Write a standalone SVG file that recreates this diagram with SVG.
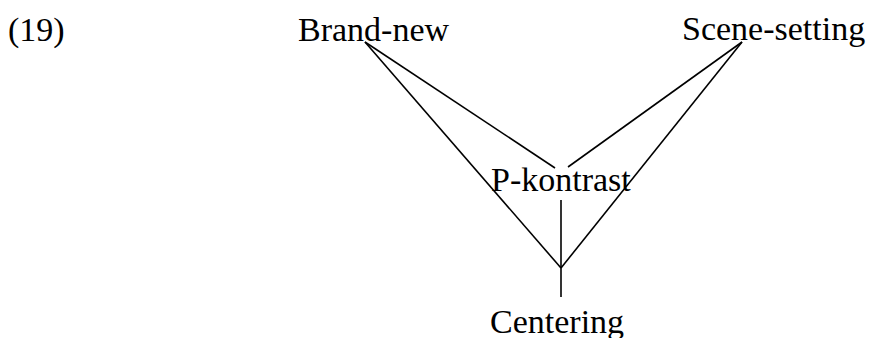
<svg xmlns="http://www.w3.org/2000/svg" width="870" height="338" viewBox="0 0 870 338">
<style>
text{font-family:"Liberation Serif","Times New Roman",serif;font-size:34px;fill:#000}
.c line{stroke:#000;stroke-width:1.6;fill:none}
</style>
<rect width="870" height="338" fill="#fff"/>
<text x="8" y="41">(19)</text>
<g id="brand-new"><text x="298" y="41">Brand-new</text></g>
<g id="scene-setting"><text x="682" y="40">Scene-setting</text></g>
<g id="p-kontrast"><text x="491" y="191">P-kontrast</text></g>
<g id="centering"><text x="490" y="333">Centering</text></g>
<g class="c" id="connectors">
<line x1="365" y1="42" x2="561" y2="268"/>
<line x1="365" y1="42" x2="555" y2="168"/>
<line x1="742" y1="42" x2="561" y2="268"/>
<line x1="742" y1="42" x2="568" y2="167"/>
<line x1="561" y1="200" x2="561" y2="297"/>
</g>
</svg>
